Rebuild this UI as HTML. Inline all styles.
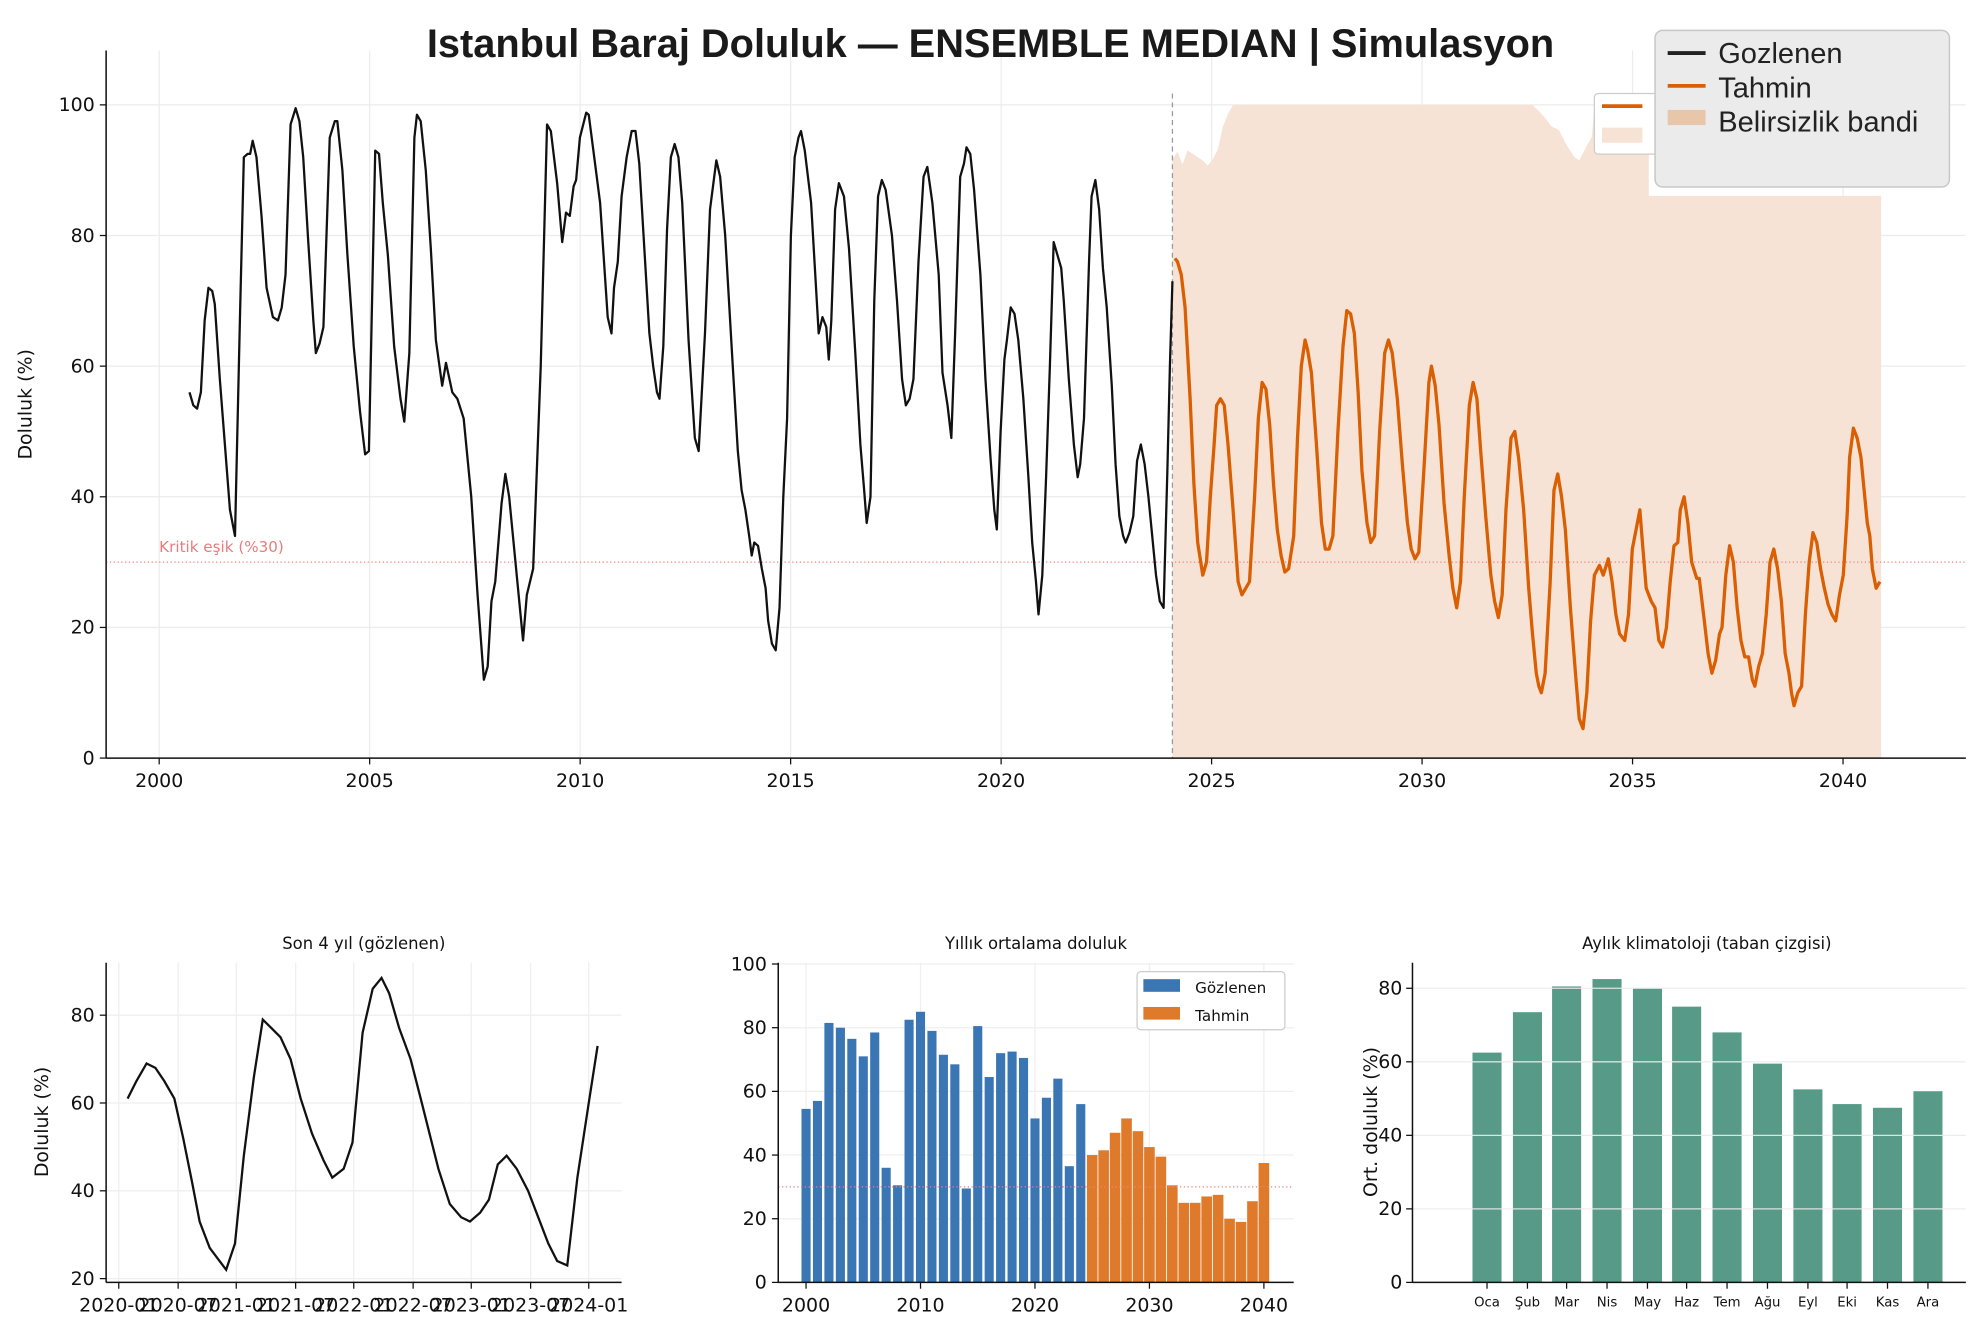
<!DOCTYPE html>
<html><head><meta charset="utf-8"><style>
html,body{margin:0;padding:0;background:#fff;}
svg{display:block;}
text{font-family:"DejaVu Sans","Liberation Sans",sans-serif;fill:#111;}
</style></head><body>
<svg id="s" width="1981" height="1338" viewBox="0 0 1568 1059" preserveAspectRatio="none" xmlns="http://www.w3.org/2000/svg">
<g id="g"></g>
</svg>
<script>
var NS="http://www.w3.org/2000/svg",G=document.getElementById('g');
function el(t,a,txt){var e=document.createElementNS(NS,t);for(var k in a)e.setAttribute(k,a[k]);if(txt!==undefined)e.textContent=txt;G.appendChild(e);return e;}
function line(x1,y1,x2,y2,st,w,da){var a={x1:x1,y1:y1,x2:x2,y2:y2,stroke:st,'stroke-width':w||1};if(da)a['stroke-dasharray']=da;return el('line',a);}
function txt(x,y,s,sz,anc,extra,style){var a={x:x,y:y,'font-size':sz,'text-anchor':anc||'middle'};for(var k in extra)a[k]=extra[k];if(style)a.style=style;return el('text',a,s);}
var LIB='font-family:"Liberation Sans",sans-serif;fill:#222;';

var Y=function(v){return 600-v*5.17;};
var yrX=function(y){return 126+(y-2000)*33.32;};
for(var y=2000;y<=2040;y+=5){line(yrX(y),40,yrX(y),600,'#ececec',1);}
for(var v=0;v<=100;v+=20){line(84,Y(v),1556,Y(v),'#ececec',1);}
el('polygon',{points:"928,600 928,126 932,120 936,130 940,119 946,123 952,127 956,131 960,126 964,118 968,100 972,90 976,83 1213,83 1218,88 1222,92 1228,100 1234,103 1240,115 1246,124 1250,127 1254,119 1260,108 1262,83 1305,83 1305,155 1489,155 1489,600",fill:'#f7e3d6'});
line(928,74,928,600,'#999',1,'4,3');
line(84,Y(30),1556,Y(30),'#f08080',1,'1,2');
txt(126,437,'Kritik eşik (%30)',12,'start',{},'fill:#e87c7c;');
var obs=[[150,56],[153,54],[156,53.5],[159,56],[162,67],[165,72],[168,71.5],[170,69.5],[174,58],[178,48],[182,38],[186,34],[190,68],[193,92],[196,92.5],[198,92.5],[200,94.5],[203,92],[207,83],[211,72],[216,67.5],[220,67],[223,69],[226,74],[230,97],[234,99.5],[237,97.5],[240,92],[244,79],[248,67],[250,62],[253,63.5],[256,66],[261,95],[265,97.5],[267,97.5],[271,90],[275,77],[280,63],[285,53],[289,46.5],[292,47],[297,93],[300,92.5],[303,85],[307,77],[312,63],[317,55],[320,51.5],[324,62],[328,95],[330,98.5],[333,97.5],[337,90],[341,78],[345,64],[350,57],[353,60.5],[358,56],[362,55],[367,52],[373,40],[378,25],[383,12],[386,14],[389,24],[392,27],[397,39],[400,43.5],[403,40],[408,30],[414,18],[417,25],[422,29],[428,60],[433,97],[436,96],[441,88],[445,79],[448,83.5],[451,83],[454,87.5],[456,88.5],[459,95],[464,98.8],[466,98.5],[471,91],[475,85],[481,67.5],[484,65],[486,72],[489,76],[492,86],[496,92],[500,96],[503,96],[506,91],[510,78],[514,65],[517,60],[520,56],[522,55],[525,63],[528,81],[531,92],[534,94],[537,92],[540,85],[545,64],[550,49],[553,47],[558,65],[562,84],[567,91.5],[570,89],[574,80],[580,60],[584,47],[587,41],[590,38],[593,34],[595,31],[597,33],[600,32.5],[603,29],[606,26],[608,21],[611,17.5],[614,16.5],[617,23],[620,40],[623,52],[626,80],[629,92],[632,95],[634,96],[637,93],[642,85],[645,75],[648,65],[651,67.5],[654,66],[656,61],[658,67],[661,84],[664,88],[668,86],[672,78],[677,62],[681,48],[684,41],[686,36],[689,40],[692,70],[695,86],[698,88.5],[701,87],[706,80],[710,70],[714,58],[717,54],[720,55],[723,58],[727,76],[731,89],[734,90.5],[738,85],[743,74],[746,59],[750,54],[753,49],[756,65],[760,89],[763,91],[765,93.5],[768,92.5],[771,87],[776,74],[780,58],[784,46],[787,38],[789,35],[792,50],[795,61],[797,64],[800,69],[803,68],[806,64],[810,55],[814,43],[817,33],[820,27],[822,22],[825,28],[828,43],[831,60],[834,79],[837,77],[840,75],[842,70],[846,58],[850,48],[853,43],[855,45],[858,52],[862,76],[864,86],[867,88.5],[870,84],[873,75],[876,69],[880,57],[883,45],[886,37],[889,34],[891,33],[894,34.5],[897,37],[900,45.5],[903,48],[906,45],[909,40],[912,34],[915,28],[918,24],[921,23],[924,44],[926,60],[928,73]];
var fc=[[930,76.5],[932,76],[935,74],[938,69],[942,55],[945,42],[948,33],[952,28],[955,30],[958,40],[961,48],[963,54],[966,55],[969,54],[972,48],[976,38],[980,27],[983,25],[986,26],[989,27],[993,40],[996,52],[999,57.5],[1002,56.5],[1005,51],[1008,42],[1011,35],[1014,31],[1017,28.5],[1020,29],[1024,34],[1027,49],[1030,60],[1033,64],[1035,62.5],[1038,59],[1042,48],[1046,36],[1049,32],[1052,32],[1055,34],[1059,50],[1063,63],[1066,68.5],[1069,68],[1072,65],[1075,56],[1078,44],[1082,36],[1085,33],[1088,34],[1092,50],[1096,62],[1099,64],[1102,62],[1106,55],[1110,45],[1114,36],[1117,32],[1120,30.5],[1123,31.5],[1127,44],[1131,57.5],[1133,60],[1136,57],[1139,51],[1143,39],[1147,31],[1150,26],[1153,23],[1156,27],[1159,40],[1163,54],[1166,57.5],[1169,55],[1172,47],[1176,37],[1180,28],[1183,24],[1186,21.5],[1189,25],[1192,38],[1196,49],[1199,50],[1202,46],[1206,38],[1210,26],[1213,19],[1216,13],[1218,11],[1220,10],[1223,13],[1227,27],[1230,41],[1233,43.5],[1236,40],[1239,35],[1243,23],[1247,13],[1250,6],[1253,4.5],[1256,10],[1259,21],[1262,28],[1266,29.5],[1269,28],[1273,30.5],[1276,27],[1279,22],[1282,19],[1286,18],[1289,22],[1292,32],[1295,35],[1298,38],[1300,33],[1303,26],[1307,24],[1310,23],[1313,18],[1316,17],[1319,20],[1322,27],[1325,32.5],[1328,33],[1330,38],[1333,40],[1336,36],[1339,30],[1343,27.5],[1345,27.5],[1349,21],[1352,16],[1355,13],[1358,15],[1361,19],[1363,20],[1366,28],[1369,32.5],[1372,30],[1375,23],[1378,18],[1381,15.5],[1384,15.5],[1387,12],[1389,11],[1392,14],[1395,16],[1398,22],[1401,30],[1404,32],[1407,29],[1410,24],[1413,16],[1416,13],[1418,10],[1420,8],[1423,10],[1426,11],[1429,22],[1432,30],[1435,34.5],[1438,33],[1441,29],[1444,26],[1447,23.5],[1450,22],[1453,21],[1456,25],[1459,28],[1462,37],[1464,46],[1467,50.5],[1470,49],[1473,46],[1475,42],[1478,36],[1480,34],[1482,29],[1485,26],[1488,27]];
function pth(pts,fx,fy){return 'M'+pts.map(function(p){return fx(p[0]).toFixed(1)+','+fy(p[1]).toFixed(1);}).join(' L');}
var id=function(x){return x;};
el('path',{d:pth(obs,id,Y),fill:'none',stroke:'#111','stroke-width':1.8,'stroke-linejoin':'round'});
el('path',{d:pth(fc,id,Y),fill:'none',stroke:'#d95f02','stroke-width':2.6,'stroke-linejoin':'round'});
line(84,40,84,600,'#111',1.2);line(84,600,1556,600,'#111',1.2);
for(var y=2000;y<=2040;y+=5){line(yrX(y),600,yrX(y),605,'#111',1);txt(yrX(y),623,''+y,15);}
for(var v=0;v<=100;v+=20){line(79,Y(v),84,Y(v),'#111',1);txt(75,Y(v)+5,''+v,15,'end');}
txt(25,320,'Doluluk (%)',15,'middle',{transform:'rotate(-90 25 320)'});
txt(784,45,'Istanbul Baraj Doluluk — ENSEMBLE MEDIAN | Simulasyon',31.5,'middle',{},'font-family:"Liberation Sans",sans-serif;font-weight:bold;fill:#1a1a1a;');
el('rect',{x:1262,y:74,width:60,height:48,rx:3,fill:'#fff',stroke:'#ccc','stroke-width':1});
line(1268,84,1300,84,'#d95f02',3);
el('rect',{x:1268,y:101,width:32,height:12,fill:'#f7e3d6'});
el('rect',{x:1310,y:24,width:233,height:124,rx:6,fill:'#ebebeb',stroke:'#c8c8c8','stroke-width':1.2});
line(1320,42,1350,42,'#222',3);txt(1360,50,'Gozlenen',23,'start',{},LIB);
line(1320,68,1350,68,'#d95f02',3);txt(1360,77,'Tahmin',23,'start',{},LIB);
el('rect',{x:1320,y:87,width:30,height:12,fill:'#e8c6aa'});txt(1360,104,'Belirsizlik bandi',23,'start',{},LIB);

var Y1=function(v){return 1012-(v-20)*3.475;};
var xt=[94,141,187,234,280,327,373,420,466],xl=['2020-01','2020-07','2021-01','2021-07','2022-01','2022-07','2023-01','2023-07','2024-01'];
xt.forEach(function(x){line(x,762,x,1015,'#efefef',1);});
[20,40,60,80].forEach(function(v){line(84,Y1(v),492,Y1(v),'#efefef',1);});
var p1=[[101,61],[108,65],[116,69],[123,68],[130,65],[138,61],[145,52],[152,42],[158,33],[166,27],[179,22],[186,28],[193,48],[201,66],[208,79],[215,77],[222,75],[230,70],[238,61],[247,53],[256,47],[263,43],[272,45],[279,51],[287,76],[295,86],[302,88.5],[308,85],[316,77],[325,70],[333,61],[340,53],[347,45],[356,37],[365,34],[372,33],[380,35],[387,38],[394,46],[401,48],[409,45],[418,40],[426,34],[434,28],[441,24],[449,23],[457,43],[466,60],[473,73]];
el('path',{d:pth(p1,id,Y1),fill:'none',stroke:'#111','stroke-width':1.8});
line(84,762,84,1015,'#111',1.2);line(84,1015,492,1015,'#111',1.2);
xt.forEach(function(x,i){line(x,1015,x,1020,'#111',1);txt(x,1038,xl[i],15);});
[20,40,60,80].forEach(function(v){line(79,Y1(v),84,Y1(v),'#111',1);txt(75,Y1(v)+5,''+v,15,'end');});
txt(288,751,'Son 4 yıl (gözlenen)',13);
txt(38,888,'Doluluk (%)',15,'middle',{transform:'rotate(-90 38 888)'});

var Y2=function(v){return 1015-v*2.52;},X2=function(y){return 638+(y-2000)*9.06;};
[0,20,40,60,80,100].forEach(function(v){line(616,Y2(v),1024,Y2(v),'#efefef',1);});
[2000,2010,2020,2030,2040].forEach(function(y){line(X2(y),762,X2(y),1015,'#efefef',1);});
var ob=[54.5,57,81.5,80,76.5,71,78.5,36,30.5,82.5,85,79,71.5,68.5,29.5,80.5,64.5,72,72.5,70.5,51.5,58,64,36.5,56];
var fo=[40,41.5,47,51.5,47.5,42.5,39.5,30.5,25,25,27,27.5,20,19,25.5,37.5];
ob.forEach(function(v,i){el('rect',{x:X2(2000+i)-3.6,y:Y2(v),width:7.2,height:v*2.52,fill:'#3a75b4'});});
fo.forEach(function(v,i){el('rect',{x:X2(2025+i)-4.2,y:Y2(v),width:8.4,height:v*2.52,fill:'#df7a2b'});});
line(616,Y2(30),1024,Y2(30),'#f08080',1,'1,2');
line(616,762,616,1015,'#111',1.2);line(616,1015,1024,1015,'#111',1.2);
[2000,2010,2020,2030,2040].forEach(function(y){line(X2(y),1015,X2(y),1020,'#111',1);txt(X2(y),1038,''+y,15);});
[0,20,40,60,80,100].forEach(function(v){line(611,Y2(v),616,Y2(v),'#111',1);txt(607,Y2(v)+5,''+v,15,'end');});
txt(820,751,'Yıllık ortalama doluluk',13);
el('rect',{x:900,y:769,width:117,height:46,rx:3,fill:'#fff',stroke:'#ccc','stroke-width':1});
el('rect',{x:905,y:775,width:29,height:10,fill:'#3a75b4'});txt(946,786,'Gözlenen',12,'start');
el('rect',{x:905,y:797,width:29,height:10,fill:'#df7a2b'});txt(946,808,'Tahmin',12,'start');

var Y3=function(v){return 1015-v*2.91;};
var cx=[1177,1209,1240,1272,1304,1335,1367,1399,1431,1462,1494,1526];
var cv=[62.5,73.5,80.5,82.5,80,75,68,59.5,52.5,48.5,47.5,52];
var cl=['Oca','Şub','Mar','Nis','May','Haz','Tem','Ağu','Eyl','Eki','Kas','Ara'];
cx.forEach(function(x,i){el('rect',{x:x-11.5,y:Y3(cv[i]),width:23,height:cv[i]*2.91,fill:'#579a87'});});
[20,40,60,80].forEach(function(v){line(1118,Y3(v),1556,Y3(v),'rgba(235,235,235,0.9)',1);});
line(1118,762,1118,1015,'#111',1.2);line(1118,1015,1556,1015,'#111',1.2);
cx.forEach(function(x,i){line(x,1015,x,1020,'#111',1);txt(x,1034,cl[i],10.5);});
[0,20,40,60,80].forEach(function(v){line(1113,Y3(v),1118,Y3(v),'#111',1);txt(1110,Y3(v)+5,''+v,15,'end');});
txt(1351,751,'Aylık klimatoloji (taban çizgisi)',13);
txt(1090,888,'Ort. doluluk (%)',15,'middle',{transform:'rotate(-90 1090 888)'});
</script>
</body></html>
